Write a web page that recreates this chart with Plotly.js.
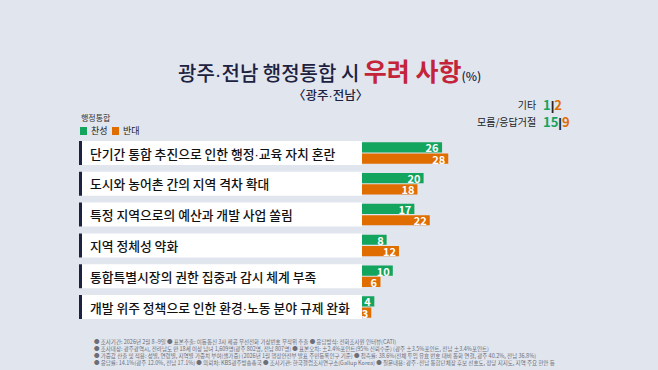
<!DOCTYPE html>
<html><head><meta charset="utf-8">
<script src="https://cdn.plot.ly/plotly-3.0.1.min.js"></script>
<style>html,body{margin:0;padding:0;background:#e1e5ee;}#chart{width:658px;height:370px;}</style>
</head><body><div id="chart"></div>
<script>
// ---- data ----
const categories = [
  "단기간 통합 추진으로 인한 행정·교육 자치 혼란",
  "도시와 농어촌 간의 지역 격차 확대",
  "특정 지역으로의 예산과 개발 사업 쏠림",
  "지역 정체성 약화",
  "통합특별시장의 권한 집중과 감시 체계 부족",
  "개발 위주 정책으로 인한 환경·노동 분야 규제 완화"
];
const support = [26, 20, 17, 8, 10, 4];   // 찬성
const oppose  = [28, 18, 22, 12, 6, 3];   // 반대
const otherLabels = ["기타", "모름/응답거절"];
const otherSupport = [1, 15];
const otherOppose  = [2, 9];
const seriesNames = ["찬성", "반대"];
const footnotes = [
  "● 조사기간: 2026년 2월 8~9일 ● 표본추출: 이동통신 3사 제공 무선전화 가상번호 무작위 추출 ● 응답방식: 전화조사원 인터뷰(CATI)",
  "● 조사대상: 광주광역시, 전라남도 만 18세 이상 남녀 1,609명(광주 802명, 전남 807명) ● 표본오차: ±2.4%포인트(95% 신뢰수준) (광주 ±3.5%포인트, 전남 ±3.4%포인트)",
  "● 가중값 산출 및 적용: 성별, 연령별, 지역별 가중치 부여(셀가중) (2026년 1월 행정안전부 발표 주민등록인구 기준) ● 접촉률: 38.6%(전체 투입 유효 번호 대비 통화 연결, 광주 40.2%, 전남 36.8%)",
  "● 응답률: 14.1%(광주 12.0%, 전남 17.1%) ● 의뢰처: KBS광주방송총국 ● 조사기관: 한국갤럽조사연구소(Gallup Korea) ● 질문내용: 광주·전남 통합단체장 후보 선호도, 정당 지지도, 지역 주요 현안 등"
];

// ---- style ----
const W = 658, H = 370;
const GREEN = "#13a45d", ORANGE = "#e06d00", NAVY = "#1c2240", RED = "#c3243a", BG = "#e1e5ee";
const FONT = "Noto Sans CJK KR";
const px = v => v / W;
const py = v => 1 - v / H;
const yIdx = categories.map((c, i) => i);
// narrow middle dot
const nd = s => s.split("·").join("<span style=\"font-family:'Liberation Sans'\">·</span>");

const barCommon = {
  type: "bar", orientation: "h", textposition: "inside", insidetextanchor: "end",
  textangle: 0, constraintext: "none", cliponaxis: false, hoverinfo: "skip",
  textfont: {family: FONT, size: 11, color: "#ffffff", weight: 700}
};
const traces = [
  Object.assign({}, barCommon, {name: seriesNames[0], x: support, y: yIdx, text: support.map(String), marker: {color: GREEN}}),
  Object.assign({}, barCommon, {name: seriesNames[1], x: oppose, y: yIdx, text: oppose.map(String), marker: {color: ORANGE}})
];

const shapes = [];
const annotations = [];
yIdx.forEach((i) => {
  shapes.push({type: "rect", xref: "paper", yref: "y", x0: px(79), x1: px(362), y0: i - 0.39, y1: i + 0.39,
    fillcolor: "#ffffff", line: {width: 0}, layer: "below"});
  shapes.push({type: "rect", xref: "paper", yref: "y", x0: px(79), x1: px(82), y0: i - 0.39, y1: i + 0.39,
    fillcolor: NAVY, line: {width: 0}, layer: "below"});
  annotations.push({xref: "paper", yref: "y", x: px(88), y: i, xanchor: "left", yanchor: "middle",
    text: nd(categories[i]), showarrow: false, font: {family: FONT, size: 12.8, color: "#111111", weight: 500}});
});

// title
annotations.push({xref: "paper", yref: "paper", x: px(329), y: py(70), xanchor: "center", yanchor: "middle", showarrow: false,
  text: nd("광주·전남 행정통합 시 ") + "<span style=\"color:" + RED + ";font-size:25px;font-weight:bold\">우려 사항</span><span style=\"font-size:12px\">(%)</span>",
  font: {family: FONT, size: 20, color: NAVY, weight: 500}});
annotations.push({xref: "paper", yref: "paper", x: px(330), y: py(94), xanchor: "center", yanchor: "middle", showarrow: false,
  text: "〈" + nd("광주·전남") + "〉", font: {family: FONT, size: 12.5, color: NAVY, weight: 500}});

// legend
annotations.push({xref: "paper", yref: "paper", x: px(79), y: py(117), xanchor: "left", yanchor: "middle", showarrow: false,
  text: "행정통합", font: {family: FONT, size: 8, color: "#333333"}});
shapes.push({type: "rect", xref: "paper", yref: "paper", x0: px(80), x1: px(87), y0: py(127), y1: py(135), fillcolor: GREEN, line: {width: 0}});
annotations.push({xref: "paper", yref: "paper", x: px(89), y: py(131), xanchor: "left", yanchor: "middle", showarrow: false,
  text: seriesNames[0], font: {family: FONT, size: 9, color: "#222222"}});
shapes.push({type: "rect", xref: "paper", yref: "paper", x0: px(112), x1: px(119), y0: py(127), y1: py(135), fillcolor: ORANGE, line: {width: 0}});
annotations.push({xref: "paper", yref: "paper", x: px(121), y: py(131), xanchor: "left", yanchor: "middle", showarrow: false,
  text: seriesNames[1], font: {family: FONT, size: 9, color: "#222222"}});

// other / refused (two-line blocks, line height ~16.9px)
annotations.push({xref: "paper", yref: "paper", x: px(538), y: py(113.5), xanchor: "right", yanchor: "middle", showarrow: false,
  align: "right", text: otherLabels.map(l => "<span style=\"font-size:10px\">" + l + "</span>").join("<br>"),
  font: {family: FONT, size: 13, color: "#222222"}});
annotations.push({xref: "paper", yref: "paper", x: px(541), y: py(113.5), xanchor: "left", yanchor: "middle", showarrow: false,
  align: "left",
  text: otherLabels.map((l, k) => "<span style=\"color:" + GREEN + "\">" + otherSupport[k] + "</span><span style=\"color:#222;font-family:'Liberation Sans'\">|</span><span style=\"color:" + ORANGE + "\">" + otherOppose[k] + "</span>").join("<br>"),
  font: {family: FONT, size: 13, color: "#222", weight: 700}});

// footnotes (one block)
annotations.push({xref: "paper", yref: "paper", x: px(92), y: py(352.5), xanchor: "left", yanchor: "middle", showarrow: false,
  align: "left", text: footnotes.join("<br>"), font: {family: FONT, size: 5.5, color: "#6a6e78"}});

const layout = {
  width: W, height: H, margin: {l: 0, r: 0, t: 0, b: 0},
  paper_bgcolor: BG, plot_bgcolor: "rgba(0,0,0,0)",
  showlegend: false, barmode: "group", bargap: 0.266, bargroupgap: 0.1,
  xaxis: {domain: [px(362), 1], range: [0, 296 / 3.08], visible: false, fixedrange: true},
  yaxis: {domain: [py(322.4), py(137.6)], range: [5.5, -0.5], visible: false, fixedrange: true},
  shapes: shapes, annotations: annotations,
  font: {family: FONT}
};
Plotly.newPlot("chart", traces, layout, {displayModeBar: false, staticPlot: true});
</script></body></html>
